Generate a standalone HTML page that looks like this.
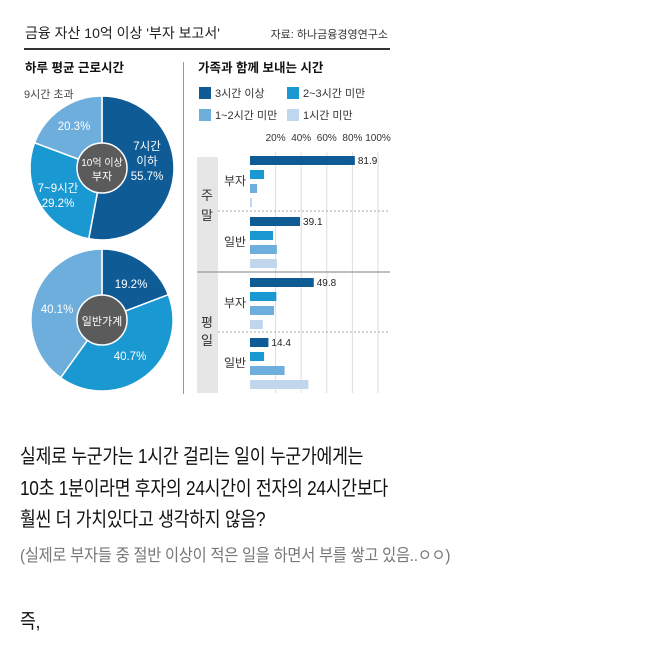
<!DOCTYPE html>
<html><head><meta charset="utf-8"><style>
body{margin:0;background:#fff;width:658px;height:658px;overflow:hidden;font-family:"Liberation Sans","Noto Sans CJK KR",sans-serif}
.t{position:absolute;left:20px;font-size:20px;color:#111;white-space:nowrap;letter-spacing:-0.3px;transform:scaleX(0.86);transform-origin:0 0}
</style></head><body>
<svg id="chart" width="400" height="400" style="position:absolute;left:0;top:0" font-family="Liberation Sans, Noto Sans CJK KR, sans-serif"></svg>
<div class="t" style="top:440px">실제로 누군가는 1시간 걸리는 일이 누군가에게는</div>
<div class="t" style="top:472px">10초 1분이라면 후자의 24시간이 전자의 24시간보다</div>
<div class="t" style="top:503px">훨씬 더 가치있다고 생각하지 않음?</div>
<div class="t" style="top:541px;font-size:17px;color:#777;transform:scaleX(0.9)">(실제로 부자들 중 절반 이상이 적은 일을 하면서 부를 쌓고 있음..ㅇㅇ)</div>
<div class="t" style="top:605px">즉,</div>
<script>
const colors=['#0f5b96','#1a98d2','#6eaedd','#bfd6ec'];
const legendLabels=['3시간 이상','2~3시간 미만','1~2시간 미만','1시간 미만'];
const richPieValues=[55.7,29.2,20.3];
const richPieLabels=['7시간\n이하\n55.7%','7~9시간\n29.2%','20.3%'];
const normPieValues=[19.2,40.7,40.1];
const normPieLabels=['19.2%','40.7%','40.1%'];
const ticks=[20,40,60,80,100];
const groups=['weekend-rich','weekend-normal','weekday-rich','weekday-normal'];
const barValues=[[81.9,11,5.5,1.5],[39.1,18,21,21],[49.8,20.6,18.8,10],[14.4,11,27,45.6]];
const barLabels=['81.9','39.1','49.8','14.4'];
const svg=document.getElementById('chart');const NS='http://www.w3.org/2000/svg';
function mk(tag,attrs,name,parent){const e=document.createElementNS(NS,tag);for(const k in attrs)e.setAttribute(k,attrs[k]);


(parent||svg).appendChild(e);return e;}
function txt(x,y,s,size,fill,name,anchor,weight){const e=mk('text',{x:x,y:y,'font-size':size,fill:fill,'text-anchor':anchor||'start','font-weight':weight||'normal'},name);e.textContent=s;return e;}
txt(25,38,"금융 자산 10억 이상 '부자 보고서'",14,'#222','title');
txt(388,38,'자료: 하나금융경영연구소',11,'#333','source','end');
mk('rect',{x:24,y:48,width:366,height:2,fill:'#333'},'title-rule');
mk('line',{x1:183.5,y1:62,x2:183.5,y2:394,stroke:'#999','stroke-width':1},'divider');
txt(25,72,'하루 평균 근로시간',12.5,'#111','pie-section-title','start','bold');
txt(198,72,'가족과 함께 보내는 시간',12.5,'#111','bar-section-title','start','bold');
txt(24,98,'9시간 초과',11,'#444','over-9h-label');
function pie(cx,cy,r,vals,cols,name){const sum=vals.reduce((a,b)=>a+b,0);let a=0;
vals.forEach((v,i)=>{const a0=a/sum*2*Math.PI;a+=v;const a1=a/sum*2*Math.PI;
const x0=cx+r*Math.sin(a0),y0=cy-r*Math.cos(a0),x1=cx+r*Math.sin(a1),y1=cy-r*Math.cos(a1);
mk('path',{d:`M${cx},${cy}L${x0},${y0}A${r},${r} 0 ${(a1-a0)>Math.PI?1:0} 1 ${x1},${y1}Z`,fill:cols[i],stroke:'#fff','stroke-width':1.5},name+'-slice-'+i);});}
pie(102,168,72,richPieValues,[colors[0],colors[1],colors[2]],'rich-pie');
pie(102,320,71,normPieValues,[colors[0],colors[1],colors[2]],'normal-pie');
mk('circle',{cx:102,cy:168,r:25,fill:'#5b5b5b',stroke:'#fff','stroke-width':1.5},'rich-pie-center');
mk('circle',{cx:102,cy:320,r:25,fill:'#5b5b5b',stroke:'#fff','stroke-width':1.5},'normal-pie-center');
txt(102,166,'10억 이상',10,'#fff','rich-center-line1','middle');txt(102,180,'부자',11,'#fff','rich-center-line2','middle');
txt(102,325,'일반가계',11,'#fff','normal-center-label','middle');
function multi(x,y,s,name){s.split('\n').forEach((l,i)=>txt(x,y+i*15,l,11.5,'#fff',name+'-'+i,'middle'));}
multi(147,150,richPieLabels[0],'rich-label-le7');
multi(58,192,richPieLabels[1],'rich-label-7to9');
multi(74,130,richPieLabels[2],'rich-label-over9');
multi(131,288,normPieLabels[0],'normal-label-le7');
multi(130,360,normPieLabels[1],'normal-label-7to9');
multi(57,313,normPieLabels[2],'normal-label-over9');
legendLabels.forEach((l,i)=>{const x=199+(i%2)*88,y=87+Math.floor(i/2)*22;
mk('rect',{x:x,y:y,width:12,height:12,fill:colors[i]},'legend-swatch-'+i);
txt(x+16,y+10,l,11,'#333','legend-label-'+i);});
const x0=250,sc=1.28;const X=v=>x0+v*sc;
mk('rect',{x:197,y:157,width:21,height:236,fill:'#e6e6e6'},'category-band');
ticks.forEach((t,i)=>{mk('line',{x1:X(t),y1:152,x2:X(t),y2:393,stroke:'#ddd','stroke-width':1},'gridline-'+t);
txt(X(t),141,t+'%',10,'#333','tick-'+t,'middle');});
mk('line',{x1:197,y1:272,x2:390,y2:272,stroke:'#999','stroke-width':1.2},'weekend-weekday-separator');
mk('line',{x1:218,y1:211,x2:390,y2:211,stroke:'#aaa','stroke-dasharray':'2,2'},'weekend-dotted');
mk('line',{x1:218,y1:332,x2:390,y2:332,stroke:'#aaa','stroke-dasharray':'2,2'},'weekday-dotted');
const groupTop=[156,217,278,338];
groups.forEach((g,gi)=>{barValues[gi].forEach((v,bi)=>{
mk('rect',{x:x0,y:groupTop[gi]+bi*14,width:v*sc,height:9,fill:colors[bi]},'bar-'+g+'-'+bi);});
txt(X(barValues[gi][0])+3,groupTop[gi]+8,barLabels[gi],10,'#222','value-'+g);
txt(235,groupTop[gi]+29,gi%2?'일반':'부자',12,'#333','row-label-'+g,'middle');});
txt(207,200,'주',13,'#333','weekend-label-1','middle');txt(207,220,'말',13,'#333','weekend-label-2','middle');
txt(207,327,'평',13,'#333','weekday-label-1','middle');txt(207,345,'일',13,'#333','weekday-label-2','middle');
</script>
</body></html>
